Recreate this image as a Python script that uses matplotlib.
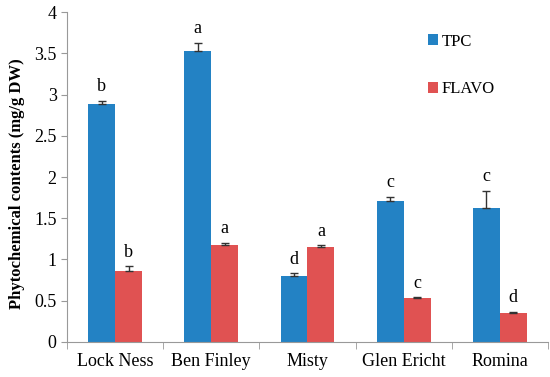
import numpy as np
import matplotlib.pyplot as plt
from matplotlib.ticker import FixedLocator

cultivars = ['Lock Ness', 'Ben Finley', 'Misty', 'Glen Ericht', 'Romina']
tpc = [2.88, 3.53, 0.80, 1.71, 1.63]
tpc_err = [0.04, 0.10, 0.03, 0.05, 0.20]
tpc_letters = ['b', 'a', 'd', 'c', 'c']
flavo = [0.865, 1.18, 1.15, 0.53, 0.355]
flavo_err = [0.05, 0.02, 0.02, 0.01, 0.01]
flavo_letters = ['b', 'a', 'a', 'c', 'd']

plt.rcParams['font.family'] = ['Liberation Serif', 'DejaVu Serif']

fig = plt.figure(figsize=(5.5, 3.77), dpi=100)
ax = fig.add_axes([0.122, 0.093, 0.874, 0.875])

x = np.arange(len(cultivars))
w = 0.28
blue = '#2382c4'
red = '#e05252'

ax.bar(x - w / 2, tpc, w, color=blue, label='TPC',
       yerr=[np.zeros(len(tpc)), tpc_err], capsize=3,
       error_kw=dict(ecolor='#333333', elinewidth=1, capthick=1))
ax.bar(x + w / 2, flavo, w, color=red, label='FLAVO',
       yerr=[np.zeros(len(flavo)), flavo_err], capsize=3,
       error_kw=dict(ecolor='#333333', elinewidth=1, capthick=1))

for i in range(len(cultivars)):
    ax.text(x[i] - w / 2, tpc[i] + tpc_err[i] + 0.07, tpc_letters[i],
            ha='center', va='bottom', fontsize=13)
    ax.text(x[i] + w / 2, flavo[i] + flavo_err[i] + 0.07, flavo_letters[i],
            ha='center', va='bottom', fontsize=13)

ax.set_xlim(-0.5, 4.5)
ax.set_ylim(0, 4)
ax.set_yticks(np.arange(0, 4.01, 0.5))
ax.set_yticklabels(['0', '0.5', '1', '1.5', '2', '2.5', '3', '3.5', '4'])
ax.set_xticks(x)
ax.set_xticklabels(cultivars)
ax.xaxis.set_minor_locator(FixedLocator(np.arange(-0.5, 4.6, 1)))
ax.tick_params(axis='x', which='major', length=0, labelsize=13, pad=8)
ax.tick_params(axis='x', which='minor', length=5, color='#999999')
ax.tick_params(axis='y', length=4, color='#999999', labelsize=13)

for s in ['top', 'right']:
    ax.spines[s].set_visible(False)
for s in ['left', 'bottom']:
    ax.spines[s].set_color('#999999')

ax.set_ylabel('Phytochemical contents (mg/g DW)', fontsize=12, fontweight='bold')
ax.yaxis.set_label_coords(-0.088, 0.48)

ax.legend(loc='upper left', bbox_to_anchor=(0.72, 0.98), frameon=False,
          fontsize=12, handlelength=0.6, handleheight=0.6, handletextpad=0.2,
          labelspacing=1.9)

fig.savefig('out.png', dpi=100)
